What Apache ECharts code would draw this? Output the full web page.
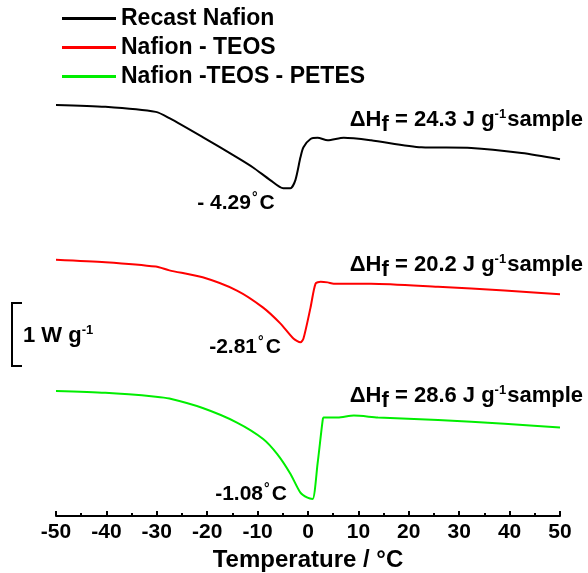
<!DOCTYPE html>
<html>
<head>
<meta charset="utf-8">
<script src="https://cdn.jsdelivr.net/npm/echarts@6/dist/echarts.min.js"></script>
<style>
  html, body { margin: 0; padding: 0; background: #fff; }
  #main { width: 588px; height: 573px; }
</style>
</head>
<body>
<div id="main"></div>
<script>
    var seriesNames = ['Recast Nafion', 'Nafion - TEOS', 'Nafion -TEOS - PETES'];

    // temperature (°C) / heat flow (W g-1, stacked with offsets)
    var recastT = [-50, -40.2, -30.2, -27.5, -20.9, -14.1, -10.9, -7.5, -4.9, -3.5, -2.5, -1.5, -0.9, 0.5, 1.9, 3.9, 7.1, 12.5, 22.5, 32.4, 42.4, 50];
    var recastV = [6.51, 6.48, 6.40, 6.30, 6.00, 5.68, 5.52, 5.32, 5.19, 5.19, 5.32, 5.68, 5.84, 5.97, 5.99, 5.95, 5.99, 5.95, 5.84, 5.83, 5.75, 5.65];

    var teosT = [-50, -40.2, -30.2, -27.5, -20.9, -14.1, -8.9, -5.5, -2.9, -1.5, -0.9, 0.5, 1.5, 2.5, 3.9, 5.1, 7.1, 12.5, 25.8, 39.0, 50];
    var teosV = [4.06, 4.02, 3.95, 3.89, 3.78, 3.57, 3.30, 3.05, 2.81, 2.75, 2.81, 3.30, 3.68, 3.71, 3.70, 3.68, 3.68, 3.68, 3.63, 3.57, 3.51];

    var petesT = [-50, -40.2, -30.2, -27.5, -20.9, -14.1, -8.9, -6.1, -3.5, -1.5, -0.1, 0.9, 1.9, 2.9, 3.1, 5.9, 9.1, 13.9, 25.8, 39.0, 50];
    var petesV = [1.98, 1.95, 1.89, 1.86, 1.71, 1.48, 1.22, 0.98, 0.67, 0.37, 0.29, 0.27, 0.83, 1.51, 1.56, 1.56, 1.59, 1.56, 1.52, 1.46, 1.40];

    var peakLabels = ['- 4.29', '-2.81', '-1.08'];
    var enthalpies = ['24.3', '20.2', '28.6'];

    function zip(xs, ys) {
        var out = [];
        for (var i = 0; i < xs.length; i++) {
            out.push([xs[i], ys[i]]);
        }
        return out;
    }

    var font = '"Liberation Sans", Arial, sans-serif';
    var myChart = echarts.init(document.getElementById('main'));

    function makeSeries(name, data, color) {
        return {
            name: name,
            type: 'line',
            data: data,
            symbol: 'none',
            smooth: 0.25,
            lineStyle: { color: color, width: 2 },
            itemStyle: { color: color },
            animation: false
        };
    }

    function dhText(val, x, y) {
        return {
            type: 'text',
            x: x,
            y: y,
            style: {
                text: '{a|ΔH}{sub|f}{a| = ' + val + ' J g}{sup|-1}{a|sample}',
                align: 'right',
                verticalAlign: 'middle',
                fill: '#000',
                rich: {
                    a: { fontSize: 22, fontWeight: 'bold', fontFamily: font },
                    sub: { fontSize: 22, fontWeight: 'bold', fontFamily: font, padding: [10, 0, 0, 0] },
                    sup: { fontSize: 13, fontWeight: 'bold', fontFamily: font, padding: [0, 1, 11, 0] }
                }
            }
        };
    }

    function peakText(txt, x, y) {
        return {
            type: 'text',
            x: x,
            y: y,
            style: {
                text: '{a|' + txt + '}{sup|°}{a|C}',
                align: 'center',
                verticalAlign: 'middle',
                fill: '#000',
                rich: {
                    a: { fontSize: 21, fontWeight: 'bold', fontFamily: font },
                    sup: { fontSize: 14, fontWeight: 'bold', fontFamily: font, padding: [0, 2, 10, 1] }
                }
            }
        };
    }

    var option = {
        backgroundColor: '#fff',
        animation: false,
        legend: {
            orient: 'vertical',
            left: 57,
            top: 2,
            icon: 'rect',
            itemWidth: 54,
            itemHeight: 3,
            itemGap: 6,
            data: seriesNames,
            textStyle: { fontSize: 23, fontWeight: 'bold', fontFamily: font, color: '#000' }
        },
        grid: { left: 56, right: 28, top: 74, bottom: 57, outerBoundsMode: 'none' },
        xAxis: {
            type: 'value',
            min: -50,
            max: 50,
            interval: 10,
            name: 'Temperature / °C',
            nameLocation: 'middle',
            nameGap: 28,
            nameTextStyle: { fontSize: 24, fontWeight: 'bold', fontFamily: font, color: '#000' },
            axisLine: { lineStyle: { color: '#000', width: 2 } },
            axisTick: { inside: true, length: 5, lineStyle: { color: '#000', width: 2 } },
            minorTick: { show: true, splitNumber: 2, length: 3, lineStyle: { color: '#000', width: 2 } },
            axisLabel: { fontSize: 21, fontWeight: 'bold', fontFamily: font, color: '#000', margin: 6 },
            splitLine: { show: false }
        },
        yAxis: {
            type: 'value',
            min: 0,
            max: 7,
            show: false
        },
        series: [
            makeSeries(seriesNames[0], zip(recastT, recastV), '#000000'),
            makeSeries(seriesNames[1], zip(teosT, teosV), '#ff0000'),
            makeSeries(seriesNames[2], zip(petesT, petesV), '#00ee00')
        ],
        graphic: [
            dhText(enthalpies[0], 583, 120),
            dhText(enthalpies[1], 583, 265),
            dhText(enthalpies[2], 583, 396),
            peakText(peakLabels[0], 236, 203),
            peakText(peakLabels[1], 245, 347),
            peakText(peakLabels[2], 251, 494),
            {
                type: 'polyline',
                shape: { points: [[22, 303], [12, 303], [12, 366], [22, 366]] },
                style: { stroke: '#000', lineWidth: 2, fill: null }
            },
            {
                type: 'text',
                x: 23,
                y: 336,
                style: {
                    text: '{a|1 W g}{sup|-1}',
                    verticalAlign: 'middle',
                    fill: '#000',
                    rich: {
                        a: { fontSize: 22, fontWeight: 'bold', fontFamily: font },
                        sup: { fontSize: 13, fontWeight: 'bold', fontFamily: font, padding: [0, 0, 11, 0] }
                    }
                }
            }
        ]
    };

    myChart.setOption(option);
</script>
</body>
</html>
